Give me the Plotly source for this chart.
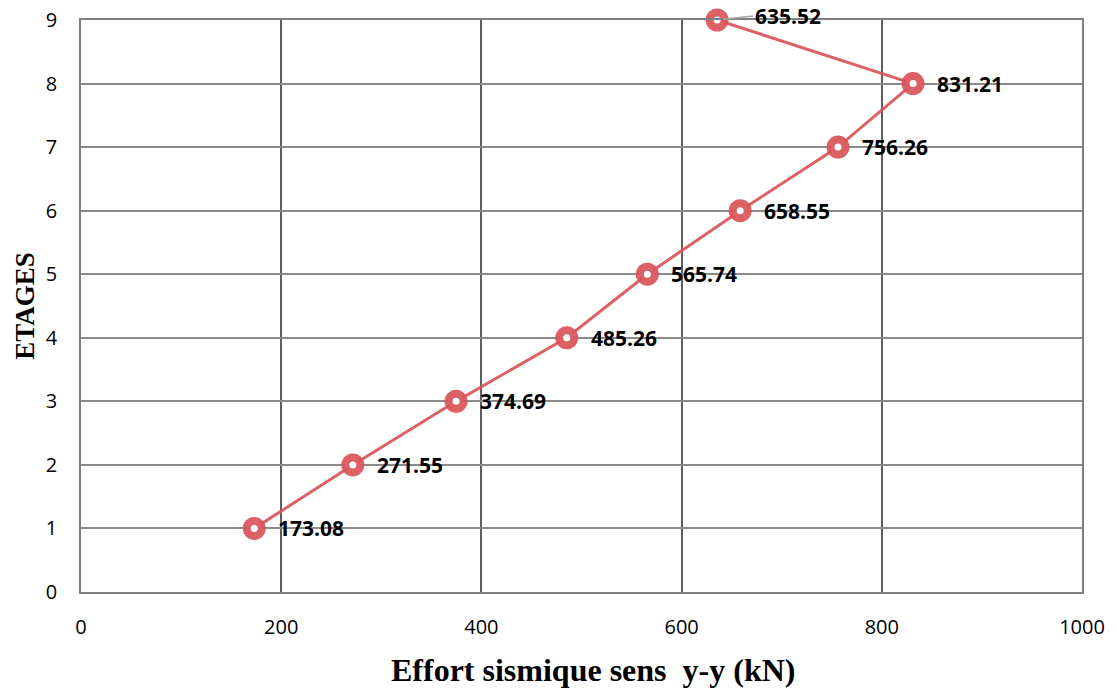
import plotly.graph_objects as go

# Seismic storey force (kN) per floor, direction y-y
etages = [1, 2, 3, 4, 5, 6, 7, 8, 9]
effort = [173.08, 271.55, 374.69, 485.26, 565.74, 658.55, 756.26, 831.21, 635.52]
labels = ["173.08", "271.55", "374.69", "485.26", "565.74", "658.55", "756.26", "831.21", "635.52"]
x_title = "Effort sismique sens  y-y (kN)"
y_title = "ETAGES"

red = "rgba(217,84,88,0.92)"
label_font = dict(family="Open Sans", size=21, color="#000000")

fig = go.Figure()
fig.add_trace(go.Scatter(
    x=effort, y=etages, mode="lines+markers",
    line=dict(color=red, width=3),
    marker=dict(size=15, color="white", line=dict(color=red, width=8)),
    cliponaxis=False, showlegend=False,
))

annotations = []
for xv, yv, t in zip(effort, etages, labels):
    if yv == 9:
        # top label sits up and to the right, joined by a leader line
        annotations.append(dict(
            x=xv, y=yv, text="<b>" + t + "</b>", showarrow=True,
            arrowhead=0, arrowcolor="#a6a6a6", arrowwidth=1.5,
            ax=36, ay=-4, xanchor="left", yanchor="middle",
            font=label_font, standoff=6,
        ))
    else:
        annotations.append(dict(
            x=xv, y=yv, text="<b>" + t + "</b>", showarrow=False,
            xanchor="left", yanchor="middle", xshift=22, yshift=0,
            font=label_font,
        ))

# x-axis title, set slightly right of the plot centre
annotations.append(dict(
    x=0.511, y=0, xref="paper", yref="paper", yshift=-78,
    xanchor="center", yanchor="middle", showarrow=False,
    text="<b>" + x_title + "</b>",
    font=dict(family="Liberation Serif", size=32, color="#000000"),
))

fig.update_layout(
    width=1117, height=688,
    margin=dict(l=81, r=35, t=20, b=96),
    paper_bgcolor="white", plot_bgcolor="white",
    annotations=annotations,
    xaxis=dict(
        range=[0, 1000], tickvals=[0, 200, 400, 600, 800, 1000],
        automargin=False,
        showgrid=True, gridcolor="#5e5e5e", gridwidth=1.5,
        showline=True, linecolor="#7f7f7f", linewidth=1.5, mirror=True,
        zeroline=False, ticks="", ticklabelstandoff=16,
        tickfont=dict(family="Open Sans", size=20, color="#000000"),
    ),
    yaxis=dict(
        range=[0, 9], tickvals=list(range(10)),
        automargin=False,
        showgrid=True, gridcolor="#8a8a8a", gridwidth=1.5,
        showline=True, linecolor="#7f7f7f", linewidth=1.5, mirror=True,
        zeroline=False, ticks="", ticklabelstandoff=18,
        tickfont=dict(family="Open Sans", size=20, color="#000000"),
        title=dict(text="<b>" + y_title + "</b>", standoff=3,
                   font=dict(family="Liberation Serif", size=27, color="#000000")),
    ),
)

fig.write_html("out.html")
